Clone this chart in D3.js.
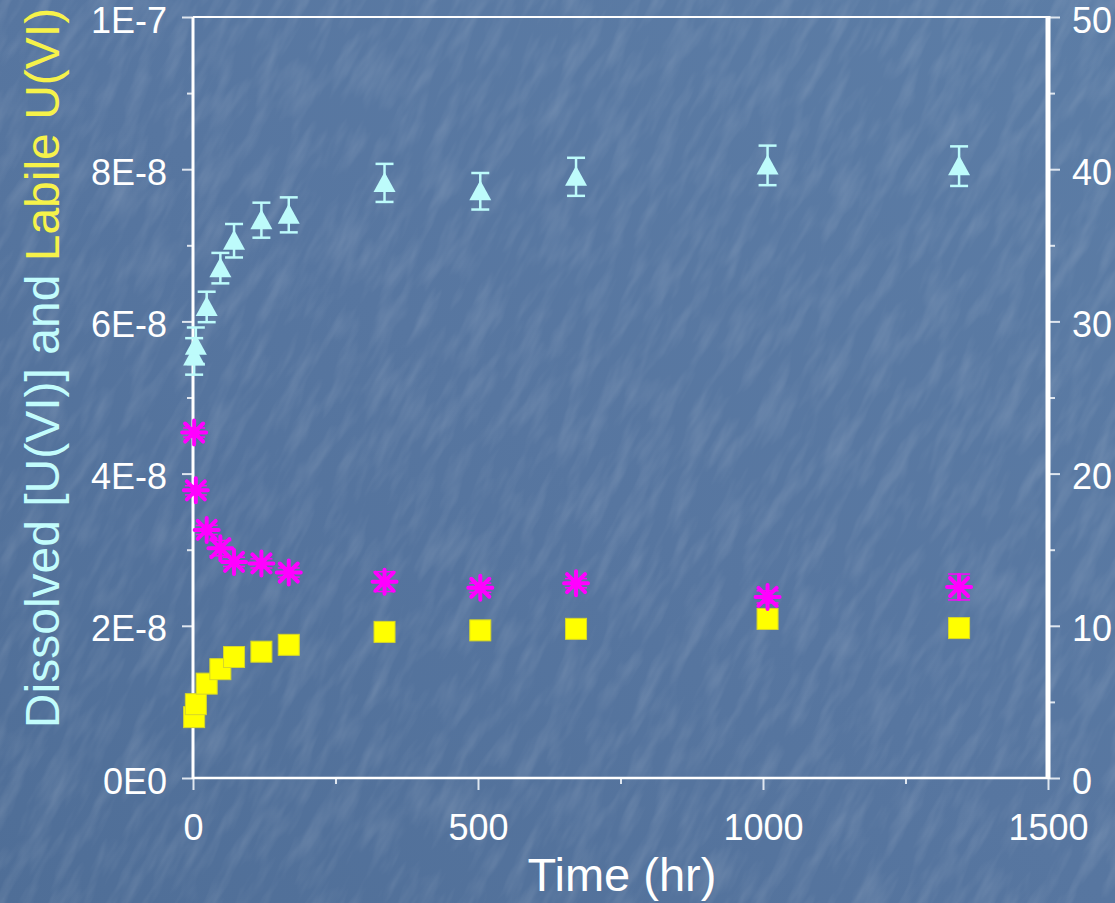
<!DOCTYPE html>
<html>
<head>
<meta charset="utf-8">
<script src="https://cdn.jsdelivr.net/npm/d3@7/dist/d3.min.js"></script>
<style>
  html, body { margin: 0; padding: 0; background: #5878a0; overflow: hidden; }
  svg { display: block; font-family: "Liberation Sans", Arial, sans-serif; }
</style>
</head>
<body>
<script>
// sampling times (hr)
const timeHr = [2, 5, 24, 48, 72, 120, 168, 336, 504, 672, 1008, 1344];
// dissolved U(VI), left axis (M) with error
const dissolvedU = [5.54e-8, 5.68e-8, 6.19e-8, 6.70e-8, 7.06e-8, 7.33e-8, 7.40e-8, 7.82e-8, 7.71e-8, 7.90e-8, 8.05e-8, 8.04e-8];
const dissolvedErr = [2.4e-9, 2.4e-9, 2.0e-9, 2.0e-9, 2.2e-9, 2.3e-9, 2.3e-9, 2.5e-9, 2.4e-9, 2.5e-9, 2.6e-9, 2.6e-9];
// labile U(VI), left axis (M)
const labileU = [8.0e-9, 9.7e-9, 1.24e-8, 1.43e-8, 1.59e-8, 1.66e-8, 1.75e-8, 1.92e-8, 1.94e-8, 1.96e-8, 2.09e-8, 1.97e-8];
// asterisk series, right axis
const rightSeries = [22.7, 18.9, 16.3, 15.1, 14.2, 14.1, 13.5, 12.9, 12.5, 12.8, 11.9, 12.55];
const rightErr = [0.3, 0.3, 0.3, 0.5, 0.3, 0.3, 0.3, 0.65, 0.3, 0.3, 0.4, 0.85];

const xTicks = [0, 500, 1000, 1500];
const leftTicks = [0, 2e-8, 4e-8, 6e-8, 8e-8, 1e-7];
const leftTickLabels = ["0E0", "2E-8", "4E-8", "6E-8", "8E-8", "1E-7"];
const rightTicks = [0, 10, 20, 30, 40, 50];

const W = 1115, H = 903;
const svg = d3.select("body").append("svg").attr("width", W).attr("height", H);

// background with a faint streaky texture
const defs = svg.append("defs");
const grad = defs.append("linearGradient").attr("id", "bg")
  .attr("x1", "0").attr("y1", "1").attr("x2", "1").attr("y2", "0");
grad.append("stop").attr("offset", "0").attr("stop-color", "#4f6e97");
grad.append("stop").attr("offset", "0.5").attr("stop-color", "#5776a0");
grad.append("stop").attr("offset", "1").attr("stop-color", "#5c7da6");

const filt = defs.append("filter").attr("id", "tex")
  .attr("x", 0).attr("y", 0).attr("width", "100%").attr("height", "100%");
filt.append("feTurbulence").attr("type", "fractalNoise")
  .attr("baseFrequency", "0.018 0.07").attr("numOctaves", 3).attr("seed", 11);
filt.append("feColorMatrix").attr("type", "matrix")
  .attr("values", "0 0 0 0 1  0 0 0 0 1  0 0 0 0 1  1.2 0 0 0 -0.5");

svg.append("rect").attr("width", W).attr("height", H).attr("fill", "url(#bg)");
svg.append("g").attr("transform", "translate(557,451) rotate(-62)")
  .append("rect").attr("x", -900).attr("y", -900).attr("width", 1800).attr("height", 1800)
  .attr("filter", "url(#tex)").attr("opacity", 0.2);

// scales
const x = d3.scaleLinear().domain([0, 1500]).range([193, 1048]);
const yL = d3.scaleLinear().domain([0, 1e-7]).range([778, 17]);
const yR = d3.scaleLinear().domain([0, 50]).range([778, 17]);

const tickCol = "#dfe6ef";
const fontSize = 36;

function styleAxis(g) {
  g.select(".domain").remove();
  g.selectAll(".tick line").attr("stroke", tickCol).attr("stroke-width", 2);
  g.selectAll("text").attr("fill", "#ffffff").attr("font-size", fontSize).attr("font-family", null);
}

// minor ticks
svg.append("g").attr("transform", "translate(193,0)")
  .call(d3.axisLeft(yL).tickValues(d3.range(1, 10, 2).map(d => d * 1e-8)).tickSize(6).tickFormat(""))
  .call(styleAxis);
svg.append("g").attr("transform", "translate(1048,0)")
  .call(d3.axisRight(yR).tickValues(d3.range(5, 50, 10)).tickSize(7).tickFormat(""))
  .call(styleAxis);
svg.append("g").attr("transform", "translate(0,778)")
  .call(d3.axisBottom(x).tickValues([250, 750, 1250]).tickSize(6).tickFormat(""))
  .call(styleAxis);

// major ticks and labels
const gL = svg.append("g").attr("transform", "translate(193,0)")
  .call(d3.axisLeft(yL).tickValues(leftTicks).tickSize(11).tickPadding(15)
    .tickFormat((d, i) => leftTickLabels[i]))
  .call(styleAxis);
gL.selectAll("text").attr("dy", "0.42em");

const gR = svg.append("g").attr("transform", "translate(1048,0)")
  .call(d3.axisRight(yR).tickValues(rightTicks).tickSize(12).tickPadding(12).tickFormat(d3.format("d")))
  .call(styleAxis);
gR.selectAll("text").attr("dy", "0.42em");

svg.append("g").attr("transform", "translate(0,778)")
  .call(d3.axisBottom(x).tickValues(xTicks).tickSize(12).tickPadding(24).tickFormat(d3.format("d")))
  .call(styleAxis);

// plot frame
svg.append("line").attr("x1", 193).attr("x2", 1048).attr("y1", 17).attr("y2", 17)
  .attr("stroke", "#ffffff").attr("stroke-width", 2);
svg.append("line").attr("x1", 193).attr("x2", 1048).attr("y1", 778).attr("y2", 778)
  .attr("stroke", "#ffffff").attr("stroke-width", 2.5);
svg.append("line").attr("x1", 193).attr("x2", 193).attr("y1", 17).attr("y2", 779)
  .attr("stroke", "#ffffff").attr("stroke-width", 3);
svg.append("line").attr("x1", 1048).attr("x2", 1048).attr("y1", 16).attr("y2", 779)
  .attr("stroke", "#ffffff").attr("stroke-width", 5);

// axis titles
svg.append("text").attr("x", 622).attr("y", 891).attr("text-anchor", "middle")
  .attr("fill", "#ffffff").attr("font-size", 47).text("Time (hr)");

const yt = svg.append("text").attr("transform", "translate(59,368) rotate(-90)")
  .attr("text-anchor", "middle").attr("font-size", 48);
yt.append("tspan").attr("fill", "#c2fcfc").text("Dissolved [U(VI)] and ");
yt.append("tspan").attr("fill", "#f6f24a").text("Labile U(VI)");

// data rows
const rows = timeHr.map((t, i) => ({
  t, dis: dissolvedU[i], disErr: dissolvedErr[i], lab: labileU[i], r: rightSeries[i], rErr: rightErr[i]
}));

// labile squares
const sq = 21;
svg.append("g").selectAll("rect").data(rows).join("rect")
  .attr("x", d => x(d.t) - sq / 2).attr("y", d => yL(d.lab) - sq / 2)
  .attr("width", sq).attr("height", sq)
  .attr("fill", "#ffff00").attr("stroke", "#d6d62a").attr("stroke-width", 1);

// asterisk series with error bars
const mag = "#ff00ff";
const gA = svg.append("g");
const errA = gA.selectAll("g.err").data(rows).join("g").attr("class", "err")
  .attr("stroke", mag).attr("stroke-width", 1.5);
errA.append("line").attr("x1", d => x(d.t)).attr("x2", d => x(d.t))
  .attr("y1", d => yR(d.r + d.rErr)).attr("y2", d => yR(d.r - d.rErr));
errA.append("line").attr("x1", d => x(d.t) - 11).attr("x2", d => x(d.t) + 11)
  .attr("y1", d => yR(d.r + d.rErr)).attr("y2", d => yR(d.r + d.rErr));
errA.append("line").attr("x1", d => x(d.t) - 11).attr("x2", d => x(d.t) + 11)
  .attr("y1", d => yR(d.r - d.rErr)).attr("y2", d => yR(d.r - d.rErr));

const ar = 12, ad = 9;
const starPath = `M${-ar},0H${ar}M0,${-ar}V${ar}M${-ad},${-ad}L${ad},${ad}M${-ad},${ad}L${ad},${-ad}`;
gA.selectAll("path").data(rows).join("path")
  .attr("transform", d => `translate(${x(d.t)},${yR(d.r)})`)
  .attr("d", starPath).attr("fill", "none")
  .attr("stroke", mag).attr("stroke-width", 4).attr("stroke-linecap", "round");

// dissolved triangles with error bars
const cyan = "#bdfbfb";
const gT = svg.append("g");
const errT = gT.selectAll("g.err").data(rows).join("g").attr("class", "err")
  .attr("stroke", cyan).attr("stroke-width", 2.5);
errT.append("line").attr("x1", d => x(d.t)).attr("x2", d => x(d.t))
  .attr("y1", d => yL(d.dis + d.disErr)).attr("y2", d => yL(d.dis - d.disErr));
errT.append("line").attr("x1", d => x(d.t) - 9).attr("x2", d => x(d.t) + 9)
  .attr("y1", d => yL(d.dis + d.disErr)).attr("y2", d => yL(d.dis + d.disErr));
errT.append("line").attr("x1", d => x(d.t) - 9).attr("x2", d => x(d.t) + 9)
  .attr("y1", d => yL(d.dis - d.disErr)).attr("y2", d => yL(d.dis - d.disErr));

gT.selectAll("path").data(rows).join("path")
  .attr("transform", d => `translate(${x(d.t)},${yL(d.dis)})`)
  .attr("d", "M0,-11L11,9L-11,9Z")
  .attr("fill", cyan);
</script>
</body>
</html>
